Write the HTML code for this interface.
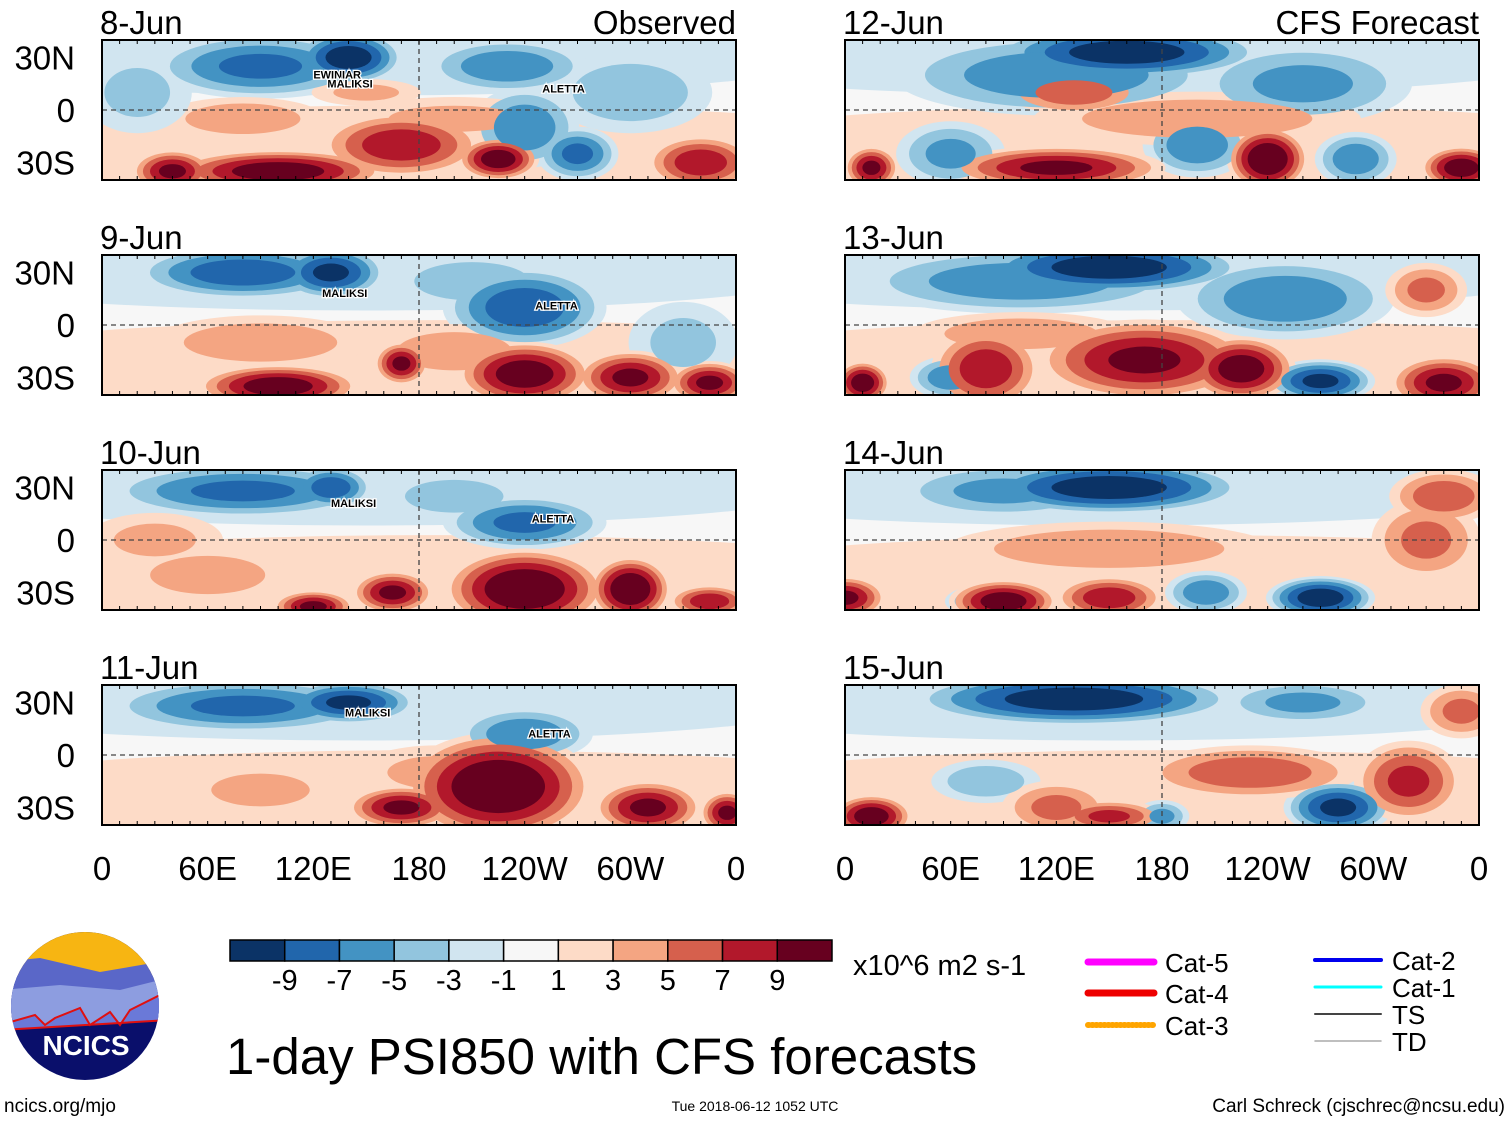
<!DOCTYPE html>
<html><head><meta charset="utf-8"><style>
body{margin:0;background:#fff;width:1510px;height:1121px;overflow:hidden}
svg{display:block;font-family:"Liberation Sans",sans-serif}
</style></head><body>
<svg id="c" width="1510" height="1121" xmlns="http://www.w3.org/2000/svg"></svg>
<script>
const panelTitles=["8-Jun","9-Jun","10-Jun","11-Jun","12-Jun","13-Jun","14-Jun","15-Jun"];
const latTicks=["30N","0","30S"];
const latVals=[30,0,-30];
const lonTicks=["0","60E","120E","180","120W","60W","0"];
const lonVals=[0,60,120,180,240,300,360];
const cbLabels=["-9","-7","-5","-3","-1","1","3","5","7","9"];
const cbColors=["#0b3366","#2166ac","#4393c3","#92c5de","#d1e5f0","#f7f7f7","#fddbc7","#f4a582","#d6604d","#b2182b","#67001f"];
const thresholds=[1,3,5,7,9];
const baseBlobs=[[150,30,170,14,-1.5],[190,-22,190,16,1.5]];
const blobs1=[[90,25,40,12,-7],[140,30,20,10,-10],[230,25,30,10,-6],[300,10,30,15,-4],[240,-10,20,15,-6],[270,-25,15,10,-7],[40,-35,15,8,9],[100,-35,40,8,10],[170,-20,30,12,8],[225,-28,15,8,10],[340,-30,20,10,8],[80,-5,30,8,4],[150,10,20,5,3],[200,-5,40,8,3],[20,10,20,15,-3]];
const blobs2=[[80,30,40,10,-8],[130,30,20,10,-9],[240,10,30,15,-8],[210,25,30,10,-4],[330,-10,20,15,-3],[100,-35,30,8,10],[170,-22,10,8,9],[240,-28,25,12,10],[300,-30,20,10,9],[345,-33,15,8,9],[90,-10,40,10,4],[200,-15,30,10,4]];
const blobs3=[[80,28,50,10,-7],[130,30,15,8,-8],[240,10,30,10,-7],[200,25,30,10,-3],[240,-28,30,15,11],[300,-28,15,12,11],[165,-30,15,8,9],[120,-38,15,6,9],[60,-20,30,10,4],[345,-35,15,6,8],[30,0,25,10,3]];
const blobs4=[[80,28,50,10,-7],[140,30,25,8,-9],[240,12,25,10,-6],[225,-18,35,20,11],[170,-30,20,8,9],[310,-30,20,10,9],[355,-33,10,8,9],[90,-20,30,10,3],[190,-10,30,10,3]];
const blobs5=[[160,33,50,10,-10],[120,20,60,15,-6],[260,15,40,15,-5],[60,-25,20,12,-5],[200,-20,20,12,-6],[290,-28,15,10,-6],[130,10,25,8,6],[120,-33,40,8,9],[240,-28,15,12,11],[15,-33,10,8,9],[350,-33,15,8,10],[200,-5,60,10,4]];
const blobs6=[[150,33,50,10,-10],[100,25,60,12,-6],[250,15,40,15,-6],[270,-32,20,8,-9],[60,-30,15,8,-6],[80,-25,20,15,8],[170,-20,40,15,9],[225,-25,20,12,10],[10,-33,10,8,10],[340,-33,20,10,9],[330,20,15,10,5],[100,-5,40,8,4]];
const blobs7=[[150,30,50,10,-10],[90,28,40,10,-5],[270,-33,20,8,-10],[205,-30,15,8,-6],[80,-35,15,6,-5],[0,-33,15,8,9],[90,-35,20,8,10],[150,-33,20,8,8],[340,25,20,10,6],[150,-5,60,10,4],[330,0,20,15,5]];
const blobs8=[[130,32,60,10,-10],[260,30,30,8,-5],[280,-30,20,10,-9],[180,-35,10,6,-5],[80,-15,20,8,-4],[15,-35,15,8,10],[230,-10,40,10,6],[120,-30,20,10,5],[320,-15,20,15,7],[350,25,15,10,5],[150,-35,20,6,7]];
const allBlobs=[blobs1,blobs2,blobs3,blobs4,blobs5,blobs6,blobs7,blobs8];
const stormLabels=[[["EWINIAR",120,18],["MALIKSI",128,13],["ALETTA",250,10]],[["MALIKSI",125,16],["ALETTA",246,9]],[["MALIKSI",130,19],["ALETTA",244,10]],[["MALIKSI",138,22],["ALETTA",242,10]]];

const svg=document.getElementById('c');
const NS="http://www.w3.org/2000/svg";
function mk(t,a,p){const e=document.createElementNS(NS,t);for(const k in a)e.setAttribute(k,a[k]);(p||svg).appendChild(e);return e;}
const PW=634,PH=140,GROW=1.55;
const lefts=[102,845], tops=[40,255,470,685];
function colorFor(v,i){return v<0?cbColors[4-i]:cbColors[6+i];}
const defs=mk('defs',{});
for(let p=0;p<8;p++){
  const col=p<4?0:1,row=p%4;
  const X0=lefts[col],Y0=tops[row];
  const xs=lon=>X0+lon/360*PW;
  const ys=lat=>Y0+(40-lat)/80*PH;
  const cp=mk('clipPath',{id:'cp'+p},defs);
  mk('rect',{x:X0,y:Y0,width:PW,height:PH},cp);
  const g=mk('g',{'clip-path':'url(#cp'+p+')'});
  
  
  mk('rect',{x:X0,y:Y0,width:PW,height:PH,fill:'#f7f7f7'},g);
  const bl=baseBlobs.concat(allBlobs[p]);
  for(let li=0;li<5;li++){
    for(const b of bl){
      const a=Math.abs(b[4]);const t=thresholds[li];
      if(a<=t-1) continue;
      const s=Math.pow(Math.max(0,1-(t-1)/(a+0.5)),0.6);
      const e=mk('ellipse',{cx:xs(b[0]),cy:ys(b[1]),rx:b[2]/360*PW*s*GROW,ry:b[3]/80*PH*s*GROW,fill:colorFor(b[4],li)},g);
      
      
    }
  }
  mk('line',{x1:X0,x2:X0+PW,y1:ys(0),y2:ys(0),stroke:'#444','stroke-dasharray':'5,4','stroke-width':1.3},g);
  mk('line',{x1:xs(180),x2:xs(180),y1:Y0,y2:Y0+PH,stroke:'#444','stroke-dasharray':'5,4','stroke-width':1.3},g);
  if(col===0){stormLabels[row].forEach(s=>{const t=mk('text',{x:xs(s[1]),y:ys(s[2]),'font-size':11,'font-weight':'bold',stroke:'#fff','stroke-width':2.5,'paint-order':'stroke'},g);t.textContent=s[0];
    
    });}
  const fr=mk('rect',{x:X0,y:Y0,width:PW,height:PH,fill:'none',stroke:'#000','stroke-width':2});
  
  
  for(let k=0;k<=36;k++){const x=X0+k*PW/36;mk('line',{x1:x,x2:x,y1:Y0,y2:Y0+4,stroke:'#000'});mk('line',{x1:x,x2:x,y1:Y0+PH,y2:Y0+PH-4,stroke:'#000'});}
  const tt=mk('text',{x:X0-2,y:Y0-6,'font-size':33});tt.textContent=panelTitles[p];
  
  
  if(row===0){const st=mk('text',{x:X0+PW,y:Y0-6,'font-size':33,'text-anchor':'end'});st.textContent=col===0?'Observed':'CFS Forecast';
    
    }
  if(col===0){latTicks.forEach((l,i)=>{const t=mk('text',{x:75,y:ys(latVals[i])+12,'font-size':33,'text-anchor':'end'});t.textContent=l;
    
    });}
  if(row===3){lonTicks.forEach((l,i)=>{const t=mk('text',{x:xs(lonVals[i]),y:880,'font-size':33,'text-anchor':'middle'});t.textContent=l;
    
    });}
}
const cbx=230,cbw=602/11;
cbColors.forEach((c,i)=>{const r=mk('rect',{x:cbx+i*cbw,y:940,width:cbw,height:21,fill:c,stroke:'#000','stroke-width':1.5});
  
  });
cbLabels.forEach((l,i)=>{const t=mk('text',{x:cbx+(i+1)*cbw,y:990,'font-size':29,'text-anchor':'middle'});t.textContent=l;
  
  });
let u=mk('text',{x:853,y:975,'font-size':29});u.textContent='x10^6 m2 s-1';


let ti=mk('text',{x:226,y:1074,'font-size':51});ti.textContent='1-day PSI850 with CFS forecasts';


const leg=[["Cat-5","#ff00ff",1088,962,7,""],["Cat-4","#ee0000",1088,993,7,""],["Cat-3","#ffa500",1088,1025,6,"1,3"],["Cat-2","#0000ee",1315,960,4,""],["Cat-1","#00ffff",1315,987,3,""],["TS","#444",1315,1014,2,""],["TD","#aaa",1315,1041,1.5,""]];
leg.forEach(l=>{const g=mk('g',{});
  
  mk('line',{x1:l[2],x2:l[2]+66,y1:l[3],y2:l[3],stroke:l[1],'stroke-width':l[4],'stroke-dasharray':l[5],'stroke-linecap':'round'},g);
  const t=mk('text',{x:l[2]+77,y:l[3]+10,'font-size':26},g);t.textContent=l[0];});
const lg=mk('g',{});
const lc=mk('clipPath',{id:'lc'},defs);mk('circle',{cx:85,cy:1006,r:74},lc);
const lgi=mk('g',{'clip-path':'url(#lc)'},lg);
mk('rect',{x:0,y:930,width:170,height:160,fill:'#0a0f6b'},lgi);
mk('rect',{x:0,y:930,width:170,height:45,fill:'#f7b512'},lgi);
mk('path',{d:'M0 962 L40 958 L100 972 L170 960 L170 1020 L120 1020 L0 1030Z',fill:'#5a67c8'},lgi);
mk('path',{d:'M0 990 L60 985 L120 990 L160 980 L170 990 L170 1020 L0 1030Z',fill:'#8d9de0'},lgi);
mk('path',{d:'M0 1025 L35 1015 L45 1025 L55 1018 L80 1008 L90 1025 L110 1012 L120 1025 L130 1010 L160 995 L170 990 L170 1020 L0 1030Z',fill:'#6a79d8',stroke:'#e01010','stroke-width':2},lgi);
let nt=mk('text',{x:86,y:1055,'font-size':28,'font-weight':'bold','fill':'#fff','text-anchor':'middle'},lg);nt.textContent='NCICS';
let f1=mk('text',{x:4,y:1112,'font-size':19});f1.textContent='ncics.org/mjo';

let f2=mk('text',{x:755,y:1111,'font-size':14,'text-anchor':'middle'});f2.textContent='Tue 2018-06-12 1052 UTC';

let f3=mk('text',{x:1505,y:1112,'font-size':19,'text-anchor':'end'});f3.textContent='Carl Schreck (cjschrec@ncsu.edu)';

</script>
</body></html>
